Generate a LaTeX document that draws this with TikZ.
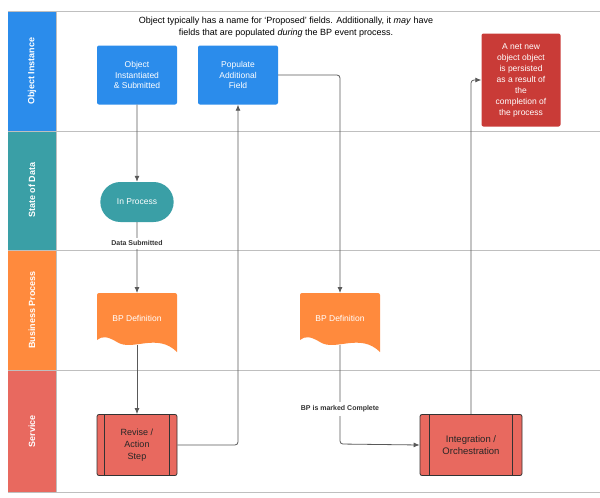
\documentclass[tikz,border=0pt]{standalone}
\usepackage{fontspec}
\setmainfont{Liberation Sans}
\usetikzlibrary{arrows.meta, positioning, shapes.misc}
\definecolor{laneblue}{HTML}{2B8CEB}
\definecolor{laneteal}{HTML}{3A9FA6}
\definecolor{laneorange}{HTML}{FF8A3D}
\definecolor{lanered}{HTML}{E8695F}
\definecolor{darkred}{HTML}{C93B37}
\tikzset{
    lanelabel/.style={rotate=90, text=white, font=\bfseries\fontsize{9}{10}\selectfont},
    objbox/.style={rectangle, rounded corners=2pt, fill=laneblue, text=white, align=center, minimum width=80pt, minimum height=59pt, font=\fontsize{8.5}{10.5}\selectfont},
    statebox/.style={rounded rectangle, fill=laneteal, text=white, minimum width=80pt, minimum height=40pt, font=\fontsize{8.5}{10}\selectfont},
    servicebox/.style={rectangle, rounded corners=2pt, draw=black!80, thick, fill=lanered, text=black!85, align=center, minimum width=80pt, minimum height=61pt, font=\fontsize{9}{12}\selectfont},
    arrow/.style={draw=black!65, thick, -{Latex[length=6pt, width=5pt]}},
    flowlabel/.style={font=\bfseries\fontsize{7}{8}\selectfont, text=black!80}
}
\newcommand{\bpdoc}[3]{%
    \fill[laneorange] (#1-40,#2-25) [rounded corners=2pt] -- (#1+40,#2-25) [sharp corners] -- (#1+40,#2+34)
        .. controls (#1+20,#2+14) and (#1-5,#2+34) .. (#1-20,#2+24)
        .. controls (#1-30,#2+18) and (#1-35,#2+18) .. (#1-40,#2+22) [rounded corners=2pt] -- cycle;
    \node[text=white, font=\fontsize{8.5}{10}\selectfont] (#3) at (#1,#2) {BP Definition};
    \coordinate (#3-top) at (#1,#2-25);
    \coordinate (#3-bot) at (#1,#2+27);}
\begin{document}
\begin{tikzpicture}[x=1pt, y=-1pt]
    \useasboundingbox (0,0) rectangle (600,498);

    % Lanes
    \fill[laneblue] (8,12) rectangle (56,131);
    \fill[laneteal] (8,131) rectangle (56,250);
    \fill[laneorange] (8,250) rectangle (56,370);
    \fill[lanered] (8,370) rectangle (56,492);
    \foreach \y in {11,131,250,370,492} {\draw[black!25, thick] (8,\y) -- (600,\y);}
    \draw[black!25, thick] (56,11) -- (56,492);
    \node[lanelabel] (L1) at (32,71) {Object Instance};
    \node[lanelabel] (L2) at (32,190) {State of Data};
    \node[lanelabel] (L3) at (32,310) {Business Process};
    \node[lanelabel] (L4) at (32,431) {Service};

    % Nodes
    \node[align=center, font=\fontsize{9}{11.5}\selectfont] (note) at (286,27) {Object typically has a name for `Proposed' fields. Additionally, it \emph{may} have\\fields that are populated \emph{during} the BP event process.};
    \node[objbox] (N1) at (137,75) {Object\\Instantiated\\\& Submitted};
    \node[objbox] (N2) at (238,75) {Populate\\Additional\\Field};
    \node[objbox, fill=darkred, minimum width=79pt, minimum height=93pt, font=\fontsize{8.5}{11}\selectfont] (R1) at (521,80) {A net new\\object object\\is persisted\\as a result of\\the\\completion of\\the process};
    \node[statebox] (S1) at (137,202) {In Process};
    \bpdoc{137}{318}{B1}
    \bpdoc{340}{318}{B2}
    \node[servicebox] (V1) at (137,445) {Revise /\\Action\\Step};
    \node[servicebox, minimum width=102pt, font=\fontsize{9.5}{12.5}\selectfont] (V2) at (471,445) {Integration /\\Orchestration};
    \draw[black!80, thick] ([xshift=8pt]V1.north west) -- ([xshift=8pt]V1.south west) ([xshift=-8pt]V1.north east) -- ([xshift=-8pt]V1.south east);
    \draw[black!80, thick] ([xshift=10pt]V2.north west) -- ([xshift=10pt]V2.south west) ([xshift=-10pt]V2.north east) -- ([xshift=-10pt]V2.south east);

    % Arrows
    \draw[arrow] (N1) -- (S1);
    \draw[arrow] (S1) -- (B1-top) node[flowlabel, pos=0.3, fill=white] {Data Submitted};
    \draw[arrow] (B1-bot) -- (V1);
    \draw[arrow, rounded corners=3pt] (V1.east) -- (238,445) -- (N2.south);
    \draw[arrow, rounded corners=3pt] (N2.east) -- (340,75) -- (B2-top);
    \draw[arrow, rounded corners=3pt] (B2-bot) -- (340,444) -- (V2.west);
    \draw[arrow, rounded corners=3pt] (V2.north) -- (471,80) -- (R1.west);
    \node[flowlabel, fill=white] (done) at (340,409) {BP is marked Complete};
\end{tikzpicture}
\end{document}
